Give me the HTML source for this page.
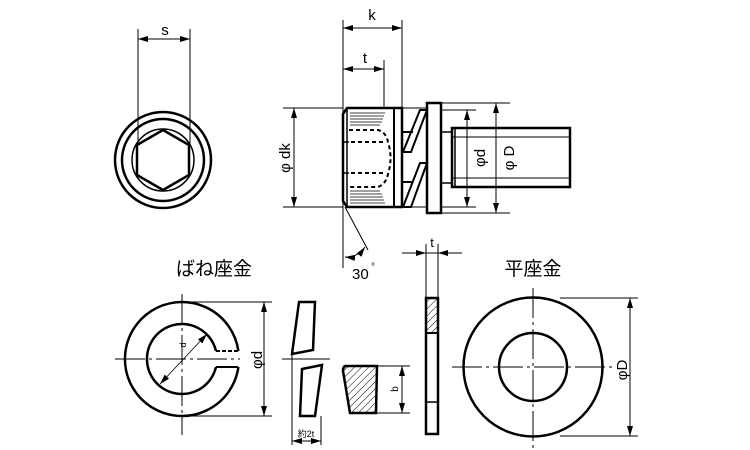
<!DOCTYPE html>
<html><head><meta charset="utf-8"><style>
html,body{margin:0;padding:0;background:#fff;width:750px;height:450px;overflow:hidden}
text{font-family:"Liberation Sans","Noto Sans CJK JP",sans-serif;fill:#000}
</style></head><body>
<svg width="750" height="450" viewBox="0 0 750 450" xmlns="http://www.w3.org/2000/svg">
<defs>
<marker id="a" viewBox="0 0 10 6" refX="10" refY="3" markerWidth="10" markerHeight="6" orient="auto-start-reverse" markerUnits="userSpaceOnUse"><path d="M0,0L10,3L0,6z" fill="#000"/></marker>
<pattern id="h" width="5" height="5" patternUnits="userSpaceOnUse" patternTransform="rotate(45)"><line x1="0" y1="0" x2="0" y2="5" stroke="#000" stroke-width="1"/></pattern>
</defs>
<g fill="none" stroke="#000">
<!-- top view -->
<circle cx="163" cy="160" r="48" stroke-width="2.5"/>
<circle cx="163" cy="160" r="41" stroke-width="2.5"/>
<circle cx="163" cy="160" r="31" stroke-width="1.5"/>
<polygon points="163,130 189,145 189,175 163,190 137,175 137,145" stroke-width="2.5"/>
<line x1="138" y1="29" x2="138" y2="145" stroke-width="1"/>
<line x1="190" y1="29" x2="190" y2="145" stroke-width="1"/>
<line x1="138" y1="39" x2="190" y2="39" stroke-width="1" marker-start="url(#a)" marker-end="url(#a)"/>
<!-- side view dims -->
<line x1="343" y1="20" x2="343" y2="268" stroke-width="1"/>
<line x1="402" y1="20" x2="402" y2="108" stroke-width="1"/>
<line x1="384" y1="60" x2="384" y2="108" stroke-width="1"/>
<line x1="343" y1="28" x2="402" y2="28" stroke-width="1" marker-start="url(#a)" marker-end="url(#a)"/>
<line x1="343" y1="69" x2="384" y2="69" stroke-width="1" marker-start="url(#a)" marker-end="url(#a)"/>
<line x1="283" y1="108" x2="343" y2="108" stroke-width="1"/>
<line x1="283" y1="207" x2="343" y2="207" stroke-width="1"/>
<line x1="294" y1="108" x2="294" y2="207" stroke-width="1" marker-start="url(#a)" marker-end="url(#a)"/>
<!-- head -->
<path d="M347,108 L402,108 L402,207 L347,207 L343,201 L343,114 Z" stroke-width="2.5"/>
<line x1="347" y1="108" x2="347" y2="207" stroke-width="1.5"/>
<line x1="394" y1="108" x2="394" y2="207" stroke-width="2"/>
<g stroke-width="0.8">
<line x1="350" y1="113" x2="385" y2="113"/><line x1="350" y1="116" x2="384" y2="116"/><line x1="350" y1="119" x2="383" y2="119"/><line x1="350" y1="122" x2="382" y2="122"/><line x1="350" y1="125" x2="380" y2="125"/>
<line x1="350" y1="191" x2="380" y2="191"/><line x1="350" y1="194" x2="382" y2="194"/><line x1="350" y1="197" x2="383" y2="197"/><line x1="350" y1="200" x2="384" y2="200"/><line x1="350" y1="203" x2="385" y2="203"/>
</g>
<g stroke-width="2" stroke-dasharray="4,3">
<path d="M349,130 L378,130 Q386,132 388,142 Q393,158 388,174 Q386,184 378,187 L349,187"/>
<line x1="351" y1="142" x2="385" y2="142"/>
<line x1="351" y1="173" x2="385" y2="173"/>
</g>
<line x1="343" y1="142" x2="349" y2="142" stroke-width="1.5"/>
<line x1="343" y1="173" x2="349" y2="173" stroke-width="1.5"/>
<!-- spring washer section -->
<g stroke-width="2">
<path d="M420,110 L427,110 L411,152 L403,152 Z"/>
<path d="M420,163 L427,163 L411,207 L403,207 Z"/>
<line x1="402" y1="132" x2="413" y2="132"/>
<line x1="402" y1="182" x2="413" y2="182"/>
<line x1="402" y1="108" x2="427" y2="108" stroke-width="1"/>
<line x1="402" y1="207" x2="427" y2="207" stroke-width="1"/>
</g>
<rect x="427" y="103" width="14" height="110" stroke-width="2.5"/>
<!-- shank -->
<rect x="452" y="128" width="118" height="59" stroke-width="2.5"/>
<line x1="441" y1="132" x2="452" y2="132" stroke-width="1.5"/>
<line x1="441" y1="183" x2="452" y2="183" stroke-width="1.5"/>
<line x1="452" y1="137" x2="570" y2="137" stroke-width="1"/>
<line x1="452" y1="178" x2="570" y2="178" stroke-width="1"/>
<line x1="455" y1="128" x2="455" y2="187" stroke-width="1.5"/>
<line x1="441" y1="110" x2="476" y2="110" stroke-width="1"/>
<line x1="441" y1="207" x2="476" y2="207" stroke-width="1"/>
<line x1="441" y1="103" x2="510" y2="103" stroke-width="1"/>
<line x1="441" y1="213" x2="510" y2="213" stroke-width="1"/>
<line x1="467" y1="110" x2="467" y2="207" stroke-width="1" marker-start="url(#a)" marker-end="url(#a)"/>
<line x1="496" y1="103" x2="496" y2="213" stroke-width="1" marker-start="url(#a)" marker-end="url(#a)"/>
<!-- 30 deg -->
<line x1="345" y1="207" x2="368" y2="250" stroke-width="1"/>
<path d="M345,257 Q357,258 365,247" stroke-width="1" marker-start="url(#a)" marker-end="url(#a)"/>
<!-- spring washer front -->
<path d="M238.4,351 A57,57 0 1 0 238.4,367" stroke-width="2.5"/>
<path d="M216,351 A35,35 0 1 0 216,367" stroke-width="2.5"/>
<line x1="216" y1="351" x2="238" y2="351" stroke-width="2" stroke-dasharray="4,2"/>
<line x1="216" y1="367" x2="238" y2="367" stroke-width="2"/>
<line x1="182" y1="294" x2="182" y2="435" stroke-width="1" stroke-dasharray="30,4,3,4"/>
<line x1="115" y1="359" x2="240" y2="359" stroke-width="1" stroke-dasharray="30,4,3,4"/>
<line x1="160" y1="384" x2="207" y2="334" stroke-width="0.8" marker-start="url(#a)" marker-end="url(#a)"/>
<line x1="182" y1="302" x2="272" y2="302" stroke-width="1"/>
<line x1="182" y1="416" x2="272" y2="416" stroke-width="1"/>
<line x1="264" y1="302" x2="264" y2="416" stroke-width="1" marker-start="url(#a)" marker-end="url(#a)"/>
<!-- spring washer side -->
<path d="M299,302 L315,302 L313,350 L292,354 Z" stroke-width="2.5"/>
<path d="M302,369 L322,365 L315,416 L300,416 Z" stroke-width="2.5"/>
<line x1="282" y1="359" x2="330" y2="359" stroke-width="1"/>
<line x1="292" y1="354" x2="292" y2="445" stroke-width="1"/>
<line x1="321" y1="416" x2="321" y2="445" stroke-width="1"/>
<line x1="292" y1="441" x2="321" y2="441" stroke-width="1" marker-start="url(#a)" marker-end="url(#a)"/>
<!-- section -->
<path d="M346,366 L377,366 L376,413 L350,413 L343,371 Q343,366 346,366 Z" fill="url(#h)" stroke-width="2.5"/>
<line x1="377" y1="366" x2="410" y2="366" stroke-width="1"/>
<line x1="376" y1="413" x2="410" y2="413" stroke-width="1"/>
<line x1="402" y1="366" x2="402" y2="413" stroke-width="1" marker-start="url(#a)" marker-end="url(#a)"/>
<!-- flat washer side -->
<rect x="426" y="298" width="12" height="136" stroke-width="2.5"/>
<rect x="426" y="298" width="12" height="35" fill="url(#h)" stroke-width="2"/>
<line x1="426" y1="402" x2="438" y2="402" stroke-width="1.5"/>
<line x1="426" y1="244" x2="426" y2="298" stroke-width="1"/>
<line x1="438" y1="244" x2="438" y2="298" stroke-width="1"/>
<line x1="402" y1="253" x2="426" y2="253" stroke-width="1" marker-end="url(#a)"/>
<line x1="462" y1="253" x2="438" y2="253" stroke-width="1" marker-end="url(#a)"/>
<line x1="426" y1="253" x2="438" y2="253" stroke-width="1"/>
<!-- flat washer front -->
<circle cx="533" cy="367" r="69.5" stroke-width="2.5"/>
<circle cx="533" cy="367" r="34" stroke-width="2.5"/>
<line x1="533" y1="288" x2="533" y2="448" stroke-width="1" stroke-dasharray="30,4,3,4"/>
<line x1="452" y1="367" x2="615" y2="367" stroke-width="1" stroke-dasharray="30,4,3,4"/>
<line x1="560" y1="298" x2="638" y2="298" stroke-width="1"/>
<line x1="560" y1="436" x2="638" y2="436" stroke-width="1"/>
<line x1="630" y1="298" x2="630" y2="436" stroke-width="1" marker-start="url(#a)" marker-end="url(#a)"/>
</g>
<!-- labels -->
<text x="165" y="35" font-size="15" text-anchor="middle">s</text>
<text x="372" y="20" font-size="15" text-anchor="middle">k</text>
<text x="365" y="63" font-size="15" text-anchor="middle">t</text>
<text transform="translate(290,158) rotate(-90)" font-size="15" text-anchor="middle">φ dk</text>
<text transform="translate(485,158) rotate(-90)" font-size="15" text-anchor="middle">φd</text>
<text transform="translate(514,158) rotate(-90)" font-size="15" text-anchor="middle">φ D</text>
<text x="352" y="279" font-size="15">30</text>
<text x="371" y="270" font-size="10">°</text>
<text x="214" y="275" font-size="19" text-anchor="middle">ばね座金</text>
<text x="533" y="275" font-size="19" text-anchor="middle">平座金</text>
<text x="432" y="247" font-size="13" text-anchor="middle">t</text>
<text transform="translate(186,345) rotate(-90)" font-size="9" text-anchor="middle">d</text>
<text transform="translate(262,360) rotate(-90)" font-size="15" text-anchor="middle">φd</text>
<text transform="translate(398,389) rotate(-90)" font-size="10" text-anchor="middle">b</text>
<text x="306" y="437" font-size="9" text-anchor="middle">約2t</text>
<text transform="translate(627,370) rotate(-90)" font-size="15" text-anchor="middle">φD</text>
</svg>
</body></html>
